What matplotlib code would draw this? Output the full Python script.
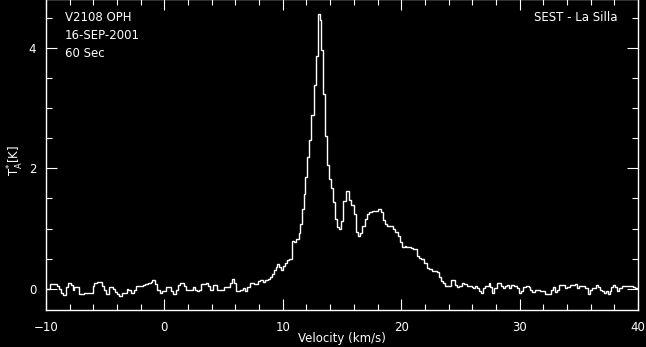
import matplotlib
matplotlib.use("Agg")
import matplotlib.pyplot as plt
from matplotlib.ticker import MultipleLocator

# step edges (km/s) and antenna temperature of each step (K)
vel_edges = [-10.00, -9.62, -9.06, -8.89, -8.72, -8.55, -8.33, -8.16, -7.93, -7.76,
             -7.65, -7.20, -6.81, -6.05, -5.91, -5.68, -5.29, -5.12, -4.92, -4.64,
             -4.36, -4.16, -3.99, -3.80, -3.60, -3.15, -3.04, -2.81, -2.59, -2.39,
             -1.83, -1.60, -1.35, -1.13, -1.01, -0.79, -0.62, -0.51, -0.34, -0.17,
             0.11, 0.56, 0.73, 0.96, 1.13, 1.29, 1.63, 1.80, 2.19, 2.42,
             2.59, 2.76, 2.93, 3.09, 3.54, 3.66, 3.83, 4.11, 4.44, 4.61,
             4.84, 5.06, 5.51, 5.71, 5.85, 6.02, 6.41, 6.64, 6.81, 6.98,
             7.26, 7.59, 7.88, 8.05, 8.33, 8.52, 8.72, 8.89, 9.06, 9.23,
             9.40, 9.51, 9.70, 9.85, 9.99, 10.15, 10.35, 10.49, 10.77, 10.91,
             11.14, 11.34, 11.48, 11.62, 11.76, 11.90, 12.04, 12.21, 12.41, 12.60,
             12.80, 12.97, 13.14, 13.25, 13.42, 13.56, 13.73, 13.90, 14.07, 14.23,
             14.37, 14.57, 14.71, 14.91, 15.08, 15.33, 15.61, 15.78, 15.98, 16.15,
             16.31, 16.54, 16.71, 16.93, 17.10, 17.27, 17.50, 17.72, 18.06, 18.28,
             18.45, 18.62, 18.79, 19.30, 19.47, 19.69, 19.86, 20.06, 20.28, 20.42,
             20.82, 20.98, 21.32, 21.49, 21.66, 21.94, 22.17, 22.39, 22.56, 23.01,
             23.18, 23.35, 23.52, 23.74, 24.19, 24.53, 24.70, 24.87, 25.15, 25.32,
             25.54, 25.94, 26.10, 26.22, 26.39, 26.55, 26.72, 26.89, 27.06, 27.40,
             27.51, 27.68, 27.85, 28.07, 28.24, 28.41, 28.58, 28.80, 28.97, 29.14,
             29.31, 29.54, 29.76, 29.93, 30.10, 30.32, 30.55, 30.77, 30.89, 31.05,
             31.28, 31.45, 31.73, 32.18, 32.63, 32.80, 32.97, 33.14, 33.36, 33.81,
             34.04, 34.26, 34.71, 34.88, 35.05, 35.56, 35.78, 35.95, 36.12, 36.29,
             36.46, 36.62, 36.79, 36.96, 37.13, 37.30, 37.47, 37.64, 37.75, 37.92,
             38.09, 38.26, 38.42, 38.65, 39.61, 39.77, 39.94, 40.00]

t_a = [0.00, 0.08, 0.05, 0.00, -0.06, -0.10, 0.03, 0.09, 0.06, -0.01,
       0.03, -0.09, -0.06, 0.05, 0.10, 0.12, 0.04, -0.02, -0.09, 0.03,
       0.00, -0.05, -0.08, -0.12, -0.06, 0.00, -0.02, -0.06, -0.02, 0.04,
       0.06, 0.08, 0.10, 0.12, 0.15, 0.08, -0.02, -0.01, -0.06, -0.03,
       0.03, -0.04, -0.09, -0.02, 0.07, 0.10, 0.05, -0.02, -0.01, 0.03,
       -0.01, -0.03, -0.01, 0.08, 0.09, 0.04, -0.02, 0.07, -0.01, -0.02,
       -0.01, 0.03, 0.10, 0.17, 0.09, -0.03, -0.02, 0.01, -0.03, 0.03,
       0.10, 0.08, 0.13, 0.15, 0.12, 0.15, 0.17, 0.19, 0.24, 0.32,
       0.37, 0.41, 0.37, 0.31, 0.38, 0.43, 0.48, 0.49, 0.80, 0.78,
       0.82, 0.92, 1.08, 1.32, 1.58, 1.85, 2.19, 2.47, 2.88, 3.38,
       3.87, 4.56, 4.46, 3.96, 3.23, 2.54, 2.06, 1.82, 1.67, 1.45,
       1.16, 1.02, 0.99, 1.12, 1.46, 1.63, 1.48, 1.39, 1.25, 0.94,
       0.88, 0.93, 1.04, 1.16, 1.24, 1.28, 1.29, 1.30, 1.32, 1.28,
       1.15, 1.08, 1.04, 0.99, 0.95, 0.87, 0.77, 0.70, 0.72, 0.70,
       0.68, 0.66, 0.55, 0.51, 0.50, 0.43, 0.35, 0.33, 0.30, 0.28,
       0.20, 0.13, 0.09, 0.05, 0.14, 0.06, 0.03, 0.05, 0.10, 0.08,
       0.05, 0.03, 0.01, 0.04, 0.01, -0.03, -0.07, 0.01, 0.05, 0.10,
       0.03, -0.06, 0.02, 0.09, 0.10, 0.05, 0.01, 0.05, 0.06, 0.02,
       0.06, 0.05, 0.01, -0.06, -0.04, 0.03, 0.05, 0.03, -0.01, -0.05,
       -0.01, -0.02, -0.04, -0.08, -0.02, 0.03, -0.05, -0.01, 0.06, 0.02,
       0.03, 0.07, 0.08, 0.02, 0.05, 0.01, -0.08, -0.02, 0.01, 0.02,
       0.06, 0.03, -0.02, -0.04, -0.06, -0.04, -0.09, -0.04, 0.03, 0.06,
       0.03, -0.03, 0.01, 0.04, 0.03, 0.02, 0.01]

info_left = ["V2108 OPH", "16-SEP-2001", "60 Sec"]
info_right = "SEST - La Silla"

plt.rcParams['font.family'] = ['DejaVu Sans']
fs = 8.5

fig = plt.figure(figsize=(6.46, 3.47), dpi=100, facecolor="black")
ax = fig.add_axes([46/646, 37/347, 592/646, 311/347], facecolor="black")

ax.stairs(t_a, vel_edges, baseline=None, color="white", lw=1.0)

ax.set_xlim(-10, 40)
ax.set_ylim(-0.35, 4.81)
ax.xaxis.set_major_locator(MultipleLocator(10))
ax.xaxis.set_minor_locator(MultipleLocator(2))
ax.yaxis.set_major_locator(MultipleLocator(2))
ax.yaxis.set_minor_locator(MultipleLocator(0.5))

for s in ax.spines.values():
    s.set_color("white")
    s.set_linewidth(1.0)
ax.tick_params(which="both", direction="in", colors="white", top=True, right=True,
               labelsize=fs, width=0.8)
ax.tick_params(which="major", length=8)
ax.tick_params(which="minor", length=4)
ax.tick_params(axis="x", pad=8)
ax.tick_params(axis="y", pad=7)

ax.set_xlabel("Velocity (km/s)", color="white", fontsize=fs)
ax.xaxis.set_label_coords(0.5, -0.071)
ax.set_ylabel(r"T$_{\rm A}^{*}$[K]", color="white", fontsize=fs)
ax.yaxis.set_label_coords(-0.034, 0.48)

ybase = [0.929, 0.872, 0.815]
for txt, yb in zip(info_left, ybase):
    ax.text(0.032, yb, txt, transform=ax.transAxes, color="white", fontsize=fs,
            ha="left", va="baseline")
ax.text(0.966, 0.929, info_right, transform=ax.transAxes, color="white", fontsize=fs,
        ha="right", va="baseline")

fig.savefig("out.png", dpi=100, facecolor="black")
